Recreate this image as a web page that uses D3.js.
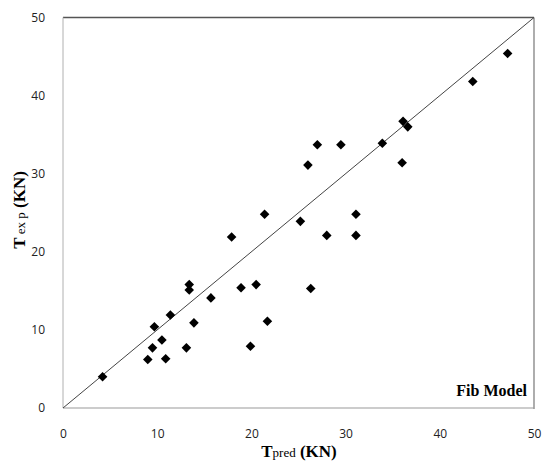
<!DOCTYPE html>
<html><head><meta charset="utf-8">
<script src="https://cdn.jsdelivr.net/npm/d3@7"></script>
<style>body{margin:0;background:#fff;}</style>
</head><body>
<svg id="c" width="542" height="463"></svg>
<script>
const tPred = [4.2, 9.0, 10.9, 9.5, 13.1, 10.5, 9.7, 13.9, 11.4, 13.4, 13.4, 15.7, 18.9, 20.5, 26.3, 21.7, 19.9, 27.0, 29.5, 33.9, 36.0, 26.0, 21.4, 17.9, 25.2, 28.0, 31.1, 31.1, 36.1, 36.6, 43.5, 47.2];
const tExp  = [4.0, 6.2, 6.3, 7.7, 7.7, 8.7, 10.4, 10.9, 11.9, 15.1, 15.8, 14.1, 15.4, 15.8, 15.3, 11.1, 7.9, 33.7, 33.7, 33.9, 31.4, 31.1, 24.8, 21.9, 23.9, 22.1, 24.8, 22.1, 36.7, 36.0, 41.8, 45.4];
const xTicks = [0, 10, 20, 30, 40, 50];
const yTicks = [0, 10, 20, 30, 40, 50];
const refLine = [[0, 0], [50, 50]];

const svg = d3.select("#c");
const x = d3.scaleLinear().domain([0, 50]).range([63, 534]);
const y = d3.scaleLinear().domain([0, 50]).range([408, 17.5]);

// frame
svg.append("line").attr("x1", x(0)).attr("x2", x(50)).attr("y1", y(50)).attr("y2", y(50)).attr("stroke", "#555").attr("stroke-width", 1.5);
svg.append("line").attr("x1", x(0)).attr("x2", x(0)).attr("y1", y(50)).attr("y2", y(0)).attr("stroke", "#b0b0b0").attr("stroke-width", 1);
svg.append("line").attr("x1", x(50)).attr("x2", x(50)).attr("y1", y(50)).attr("y2", y(0)+1).attr("stroke", "#777").attr("stroke-width", 1.2);
svg.append("line").attr("x1", x(0)).attr("x2", x(50)).attr("y1", y(0)).attr("y2", y(0)).attr("stroke", "#999").attr("stroke-width", 1);

// axes labels (ticks) via d3 axes, no domain/tick lines
const xAxis = svg.append("g").attr("transform", `translate(0,${y(0)})`)
  .call(d3.axisBottom(x).tickValues(xTicks).tickSize(0).tickPadding(21));
const yAxis = svg.append("g").attr("transform", `translate(${x(0)},0)`)
  .call(d3.axisLeft(y).tickValues(yTicks).tickSize(0).tickPadding(18));
[xAxis, yAxis].forEach(g => {
  g.select(".domain").remove();
  g.selectAll("text").attr("font-family", "'Open Sans', sans-serif").attr("font-size", 12).attr("fill", "#222");
});

// reference line
svg.append("path").datum(refLine)
  .attr("d", d3.line().x(d => x(d[0])).y(d => y(d[1])))
  .attr("stroke", "#444").attr("stroke-width", 1).attr("fill", "none");

// points
const sym = d3.symbol().type(d3.symbolSquare).size(46);
svg.append("g").selectAll("path").data(tPred.map((v, i) => [v, tExp[i]]))
  .join("path")
  .attr("d", sym)
  .attr("transform", d => `translate(${x(d[0])},${y(d[1])}) rotate(45)`)
  .attr("fill", "#000");

// axis titles
const xt = svg.append("text").attr("x", 299).attr("y", 457).attr("text-anchor", "middle")
  .attr("font-family", "'Liberation Serif', serif").attr("font-weight", "bold").attr("font-size", 17).attr("fill", "#000");
xt.append("tspan").text("T");
xt.append("tspan").attr("font-size", 13).attr("font-weight", "normal").text("pred");
xt.append("tspan").text(" (KN)");

const yt = svg.append("text").attr("transform", "translate(25,210) rotate(-90)").attr("text-anchor", "middle")
  .attr("font-family", "'Liberation Serif', serif").attr("font-weight", "bold").attr("font-size", 17).attr("fill", "#000");
yt.append("tspan").text("T");
yt.append("tspan").attr("font-size", 13).attr("font-weight", "normal").text(" ex p");
yt.append("tspan").text(" (KN)");

svg.append("text").attr("x", 527).attr("y", 396).attr("text-anchor", "end")
  .attr("font-family", "'Liberation Serif', serif").attr("font-weight", "bold").attr("font-size", 16).attr("fill", "#000")
  .text("Fib Model");
</script>
</body></html>
